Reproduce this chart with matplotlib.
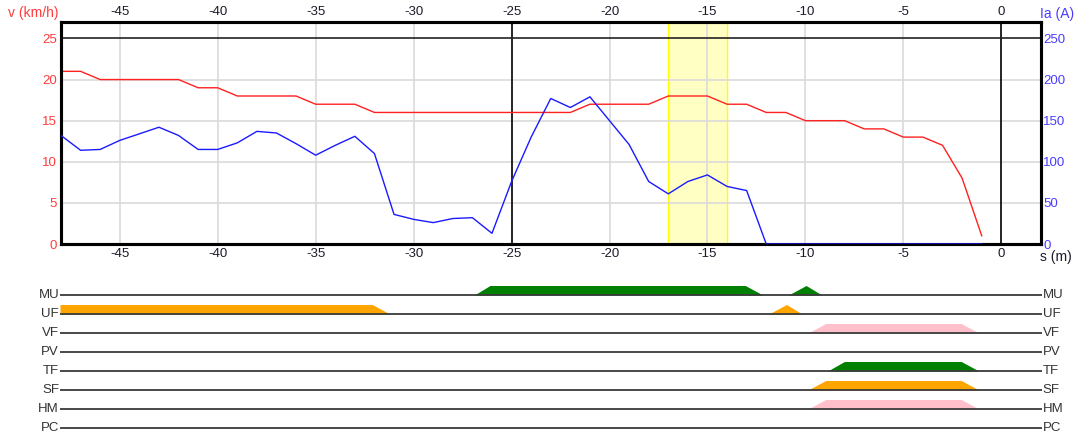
import matplotlib
matplotlib.use("Agg")
import matplotlib.pyplot as plt
import matplotlib.transforms as mtransforms

plt.rcParams['font.family'] = ['Liberation Sans', 'DejaVu Sans']
plt.rcParams['axes.unicode_minus'] = False

# ---------------- data ----------------
s_m = list(range(-48, 0))  # -48 .. -1
speed_kmh = [21, 21, 20, 20, 20, 20, 20, 19, 19, 18, 18, 18, 18, 17, 17, 17,
             16, 16, 16, 16, 16, 16, 16, 16, 16, 16, 16, 17, 17, 17, 17, 18,
             18, 18, 17, 17, 16, 16, 15, 15, 15, 14, 14, 13, 13, 12, 8, 1]
speed_s = s_m[:len(speed_kmh)]
current_a = [132, 114, 115, 126, 134, 142, 132, 115, 115, 123, 137, 135, 122,
             108, 120, 131, 110, 36, 30, 26, 31, 32, 13, 76, 130, 177, 166,
             179, 150, 121, 76, 61, 76, 84, 70, 65, 0, 0, 0, 0, 0, 0, 0, 0,
             0, 0, 0, 0]
current_s = s_m[:len(current_a)]

x_ticks = [-45, -40, -35, -30, -25, -20, -15, -10, -5, 0]
v_ticks = [0, 5, 10, 15, 20, 25]
ia_ticks = [0, 50, 100, 150, 200, 250]
v_limit = 25
band_start, band_end = -17, -14

lane_names = ["MU", "UF", "VF", "PV", "TF", "SF", "HM", "PC"]
lane_colors = ["#008000", "#ffa500", "#ffc0cb", "#008000", "#008000",
               "#ffa500", "#ffc0cb", "#008000"]
MU_x = [-48, -26.9, -26.1, -13.1, -12.2, -10.9, -10.0, -9.2, 2]
MU_v = [0, 0, 1, 1, 0, 0, 1, 0, 0]
UF_x = [-48, -32.1, -31.2, -11.9, -11.0, -10.2, 2]
UF_v = [1, 1, 0, 0, 1, 0, 0]
VF_x = [-48, -9.9, -9.0, -2.1, -1.2, 2]
VF_v = [0, 0, 1, 1, 0, 0]
PV_x = [-48, 2]
PV_v = [0, 0]
TF_x = [-48, -8.9, -8.05, -2.1, -1.2, 2]
TF_v = [0, 0, 1, 1, 0, 0]
SF_x = [-48, -9.9, -9.0, -2.1, -1.2, 2]
SF_v = [0, 0, 1, 1, 0, 0]
HM_x = [-48, -9.9, -9.0, -2.1, -1.2, 2]
HM_v = [0, 0, 1, 1, 0, 0]
PC_x = [-48, 2]
PC_v = [0, 0]
signals = [(MU_x, MU_v), (UF_x, UF_v), (VF_x, VF_v), (PV_x, PV_v),
           (TF_x, TF_v), (SF_x, SF_v), (HM_x, HM_v), (PC_x, PC_v)]

# ---------------- figure ----------------
W, H = 1074, 433
fig = plt.figure(figsize=(W / 100, H / 100), dpi=100)

def rect(x0, y0, x1, y1):
    return [x0 / W, 1 - y1 / H, (x1 - x0) / W, (y1 - y0) / H]

XL = (-48, 2)
ax = fig.add_axes(rect(61, 22, 1040.5, 244))
ax.set_xlim(*XL)
ax.set_ylim(0, 27)

red = "#ff2020"
blue = "#1a1aff"
tick_red = "#ff3b3b"
tick_blue = "#4a3cff"
FS = 9.5

ax.axvspan(band_start, band_end, facecolor="#ffffc4", edgecolor="none", zorder=0)
for xb in (band_start, band_end):
    ax.axvline(xb, color="#ffff00", lw=1.0, zorder=0.5)

for xv in x_ticks:
    if xv in (-25, 0):
        ax.axvline(xv, color="black", lw=1.2, zorder=1)
    else:
        ax.axvline(xv, color="#dadada", lw=1.2, zorder=0.8)
for yv in v_ticks[1:-1]:
    ax.axhline(yv, color="#dadada", lw=1.2, zorder=0.8)
ax.axhline(v_limit, color="#222222", lw=1.2, zorder=1)

ax.plot(speed_s, speed_kmh, color=red, lw=1.0, zorder=3)

ax2 = ax.twinx()
ax2.set_ylim(0, 270)
ax2.plot(current_s, current_a, color=blue, lw=1.0, zorder=3)

ax.set_xticks(x_ticks)
ax.tick_params(axis="x", which="both", length=0, labelsize=FS, pad=3,
               top=True, labeltop=True, colors="#1a1a2a")
ax.set_yticks(v_ticks)
ax.tick_params(axis="y", length=0, labelsize=FS, pad=3, colors=tick_red)
ax2.set_yticks(ia_ticks)
ax2.tick_params(axis="y", length=0, labelsize=FS, pad=2, colors=tick_blue)
for a in (ax, ax2):
    for sp in a.spines.values():
        sp.set_linewidth(2.2)
        sp.set_color("black")

fig.text(58 / W, 1 - 13 / H, "v (km/h)", color=tick_red, fontsize=10,
         ha="right", va="center")
fig.text(1040 / W, 1 - 14 / H, "Ia (A)", color=tick_blue, fontsize=10,
         ha="left", va="center")
fig.text(1040 / W, 1 - 257 / H, "s (m)", color="#1a1a2a", fontsize=10,
         ha="left", va="center")

# ---------------- signal lanes ----------------
axl = fig.add_axes(rect(60, 276, 1041.7, 433))
axl.set_xlim(*XL)
axl.set_ylim(-7.263, 1.0)
axl.axis("off")
sig_h = 0.5
trans = mtransforms.blended_transform_factory(axl.transAxes, axl.transData)
for i, (name, col, (sx, sv)) in enumerate(zip(lane_names, lane_colors, signals)):
    base = -i
    axl.fill_between(sx, base, [base + sig_h * v for v in sv], color=col,
                     lw=0, zorder=1)
    axl.plot(XL, [base, base], color="#3a3a3a", lw=1.3, zorder=2,
             solid_capstyle="butt")
    axl.text(-0.001, base, name, transform=trans, ha="right", va="center",
             fontsize=9.5, color="#333333")
    axl.text(1.001, base, name, transform=trans, ha="left", va="center",
             fontsize=9.5, color="#333333")

fig.savefig("out.png", dpi=100)
